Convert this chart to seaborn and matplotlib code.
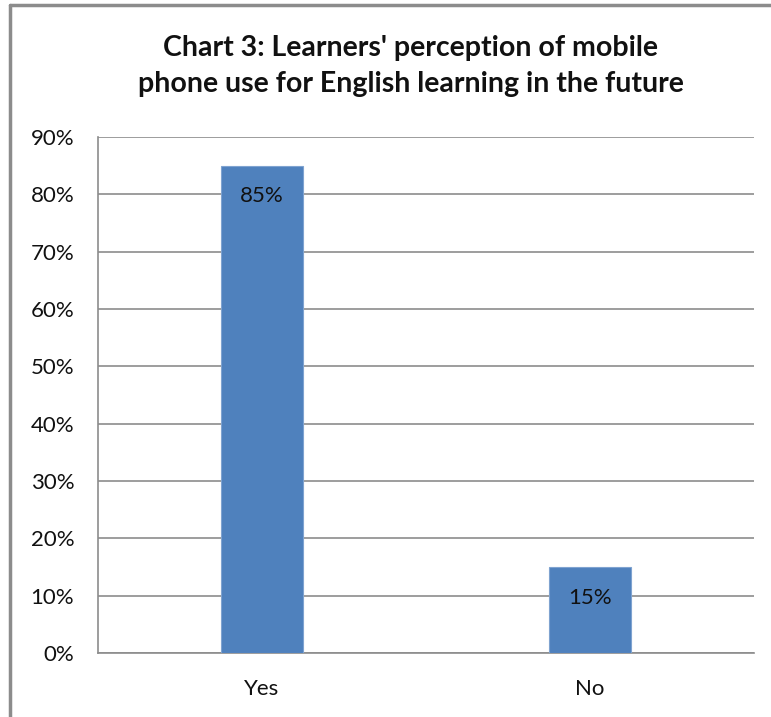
import matplotlib
matplotlib.use("Agg")
import matplotlib.pyplot as plt
import seaborn as sns
import pandas as pd
from matplotlib.lines import Line2D
from matplotlib.ticker import MultipleLocator, FuncFormatter

# Survey responses (share of learners)
answers = ["Yes", "No"]
shares = [85, 15]
title = "Chart 3: Learners' perception of mobile\nphone use for English learning in the future"

df = pd.DataFrame({"answer": answers, "share": shares})

sns.set_theme(style="white")
plt.rcParams["font.family"] = ["Lato", "DejaVu Sans"]

fig = plt.figure(figsize=(7.71, 7.17), dpi=100)
ax = fig.add_axes([0.127, 0.0893, 0.851, 0.7197])

bar_color = "#4F81BD"
sns.barplot(data=df, x="answer", y="share", color=bar_color, width=0.25,
            saturation=1, ax=ax, zorder=3, edgecolor="#7fa3d0", linewidth=0.8)

ax.set_ylim(0, 90)
ax.set_xlim(-0.5, 1.5)
ax.yaxis.set_major_locator(MultipleLocator(10))
ax.yaxis.set_major_formatter(FuncFormatter(lambda v, _: f"{v:.0f}%"))
ax.grid(axis="y", color="#8c8c8c", linewidth=1.2, zorder=0)
ax.set_xlabel("")
ax.set_ylabel("")
ax.tick_params(axis="both", length=0, labelsize=16, colors="#111111")
ax.tick_params(axis="y", pad=17)
ax.tick_params(axis="x", pad=19)

for side in ("top", "right"):
    ax.spines[side].set_visible(False)
for side in ("left", "bottom"):
    ax.spines[side].set_color("#8c8c8c")
    ax.spines[side].set_linewidth(1.2)

for patch, val in zip(ax.patches, shares):
    cx = patch.get_x() + patch.get_width() / 2
    ax.annotate(f"{val}%", xy=(cx, val), xytext=(0, -22), textcoords="offset points",
                ha="center", va="center", fontsize=16, color="#111111", zorder=4)

fig.text(0.533, 0.908, title, ha="center", va="center", fontsize=20.5,
         fontweight="bold", color="#111111", linespacing=1.45)

# outer chart frame (top and left edges)
fig.add_artist(Line2D([0.013, 1.0], [0.993, 0.993], transform=fig.transFigure,
                      color="#8c8c8c", linewidth=2.5))
fig.add_artist(Line2D([0.013, 0.013], [0.0, 0.993], transform=fig.transFigure,
                      color="#8c8c8c", linewidth=2.5))

fig.savefig("out.png", dpi=100, facecolor="white")
